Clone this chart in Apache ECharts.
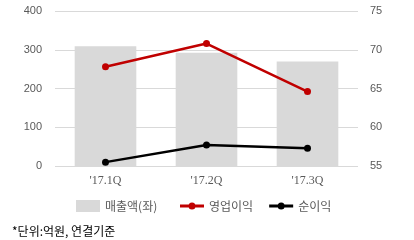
<!DOCTYPE html>
<html><head><meta charset="utf-8">
<script src="https://cdn.jsdelivr.net/npm/echarts@6/dist/echarts.min.js"></script>
<style>html,body{margin:0;padding:0;background:#fff}#c{width:414px;height:240px}</style>
</head><body><div id="c"></div>
<script>
const categories = ["'17.1Q", "'17.2Q", "'17.3Q"];
const sales = [309, 292, 270];
const opProfit = [67.8, 70.8, 64.6];
const netProfit = [55.5, 57.7, 57.3];
const seriesNames = ["매출액(좌)", "영업이익", "순이익"];
const footnote = "*단위:억원, 연결기준";

const chart = echarts.init(document.getElementById('c'), null, {renderer: 'canvas'});
const labelColor = '#595959';
const lineIcon = 'path://M0,2 L24,2 L24,5 L0,5 Z M8.5,3.5 A3.5,3.5 0 1 1 15.5,3.5 A3.5,3.5 0 1 1 8.5,3.5 Z';
const legendText = {color: labelColor, fontFamily: 'Noto Sans CJK KR', fontSize: 12};
chart.setOption({
  animation: false,
  grid: {left: 55, right: 56, top: 11, bottom: 74},
  xAxis: {
    type: 'category', data: categories,
    axisLine: {show: false}, axisTick: {show: false},
    axisLabel: {color: labelColor, fontFamily: 'Liberation Serif', fontSize: 12, margin: 9}
  },
  yAxis: [
    {type: 'value', min: 0, max: 400, interval: 100,
     axisLabel: {color: labelColor, fontFamily: 'Liberation Sans', fontSize: 11, margin: 13},
     splitLine: {lineStyle: {color: '#d9d9d9', width: 1}}},
    {type: 'value', min: 55, max: 75, interval: 5, position: 'right',
     axisLabel: {color: labelColor, fontFamily: 'Liberation Sans', fontSize: 11, margin: 12},
     splitLine: {show: false}}
  ],
  legend: [{
    left: 76, top: 200, padding: 0, itemWidth: 24, itemHeight: 12,
    textStyle: legendText,
    data: [{name: seriesNames[0], icon: 'rect'}]
  }, {
    left: 180, top: 200, padding: 0, itemWidth: 24, itemHeight: 7, itemGap: 16,
    textStyle: legendText,
    data: [
      {name: seriesNames[1], icon: lineIcon, itemStyle: {color: '#c00000'}},
      {name: seriesNames[2], icon: lineIcon, itemStyle: {color: '#000'}}
    ]
  }],
  graphic: [{type: 'text', left: 12, top: 225,
    style: {text: footnote, fill: '#000', font: '12px "Noto Sans CJK KR"'}}],
  series: [
    {name: seriesNames[0], type: 'bar', data: sales, yAxisIndex: 0,
     barCategoryGap: '39%', itemStyle: {color: '#d9d9d9'}},
    {name: seriesNames[1], type: 'line', data: opProfit, yAxisIndex: 1,
     symbol: 'circle', symbolSize: 7, lineStyle: {color: '#c00000', width: 2.5},
     itemStyle: {color: '#c00000'}},
    {name: seriesNames[2], type: 'line', data: netProfit, yAxisIndex: 1,
     symbol: 'circle', symbolSize: 7, lineStyle: {color: '#000', width: 2.5},
     itemStyle: {color: '#000'}}
  ]
});
</script></body></html>
